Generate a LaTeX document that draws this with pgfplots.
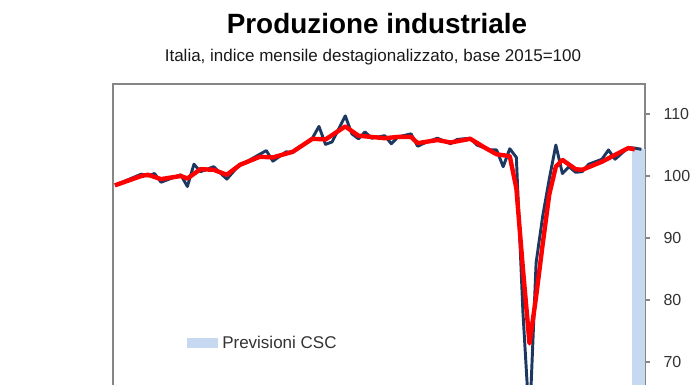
\documentclass[border=0pt]{standalone}
\usepackage{fontspec}
\setmainfont{Liberation Sans}
\usepackage{pgfplots}
\pgfplotsset{compat=1.18}
\definecolor{navy}{RGB}{28,56,96}
\definecolor{csred}{RGB}{255,0,0}
\definecolor{shade}{RGB}{198,217,241}
\definecolor{spine}{RGB}{134,134,134}
\definecolor{ticktext}{RGB}{50,50,50}
\begin{document}
\begin{tikzpicture}
\path[use as bounding box] (-84.75pt,63pt) rectangle (437.25pt,-225.75pt);
\begin{axis}[
  at={(0pt,0pt)}, anchor=north west,
  scale only axis, width=399pt, height=301.5pt,
  xmin=-0.3, xmax=80.55, ymin=50, ymax=114.84,
  xtick=\empty,
  ytick={70,80,90,100,110},
  ytick pos=right, yticklabel pos=right,
  tick align=outside, major tick length=3.75pt,
  axis line style={spine, line width=1.5pt},
  tick style={spine, line width=1pt},
  yticklabel style={font=\fontsize{12}{14}\selectfont, text=ticktext, anchor=west, inner sep=0pt, xshift=10pt},
  /pgf/number format/assume math mode=true,
  legend style={at={(0.1391,0.3557)}, anchor=west, draw=none, fill=none, inner sep=0pt,
    font=\fontsize{12.75}{15}\selectfont, text=ticktext, nodes={inner sep=0pt}, column sep=3pt},
  legend cell align=left,
  legend image code/.code={\fill[#1] (0pt,-3.75pt) rectangle (23.25pt,3.75pt);},
]
\addplot[fill=shade, draw=none] coordinates {(78.65,104.4) (80.55,104.4)} \closedcycle;
\addlegendentry{Previsioni CSC}
\addplot[navy, line width=2.2pt, line join=round, forget plot] coordinates {
(0,98.5) (2,99.4) (4,100.3) (5,100.0) (6,100.4) (7,99.0) (10,100.2) (11,98.3) (12,101.9) (13,100.7)
(15,101.5) (17,99.5) (19,101.9) (20,102.3) (23,104.1) (24,102.4) (26,103.9) (27,103.8) (30,106.1) (31,108.0)
(32,105.1) (33,105.5) (35,109.7) (36,106.8) (37,106.0) (38,107.1) (39,106.1) (41,106.5) (42,105.2) (43,106.3)
(45,106.8) (46,104.8) (47,105.3) (49,106.1) (51,105.2) (52,105.9) (54,106.1) (55,105.0) (57,104.2) (58,104.2)
(59,101.5) (60,104.4) (61,103.0) (62,78) (63,60) (64,86) (65,93.5) (66,99.5) (67,105.0) (68,100.4)
(69,101.5) (70,100.6) (71,100.7) (72,101.9) (74,102.7) (75,104.2) (76,102.7) (78,104.6) (79,104.5) (80,104.3)
};
\addplot[csred, line width=3.3pt, line join=round, forget plot] coordinates {
(0,98.5) (4,100.0) (5,100.2) (7,99.5) (10,100.0) (11,99.6) (13,101.1) (15,101.0) (17,100.2) (19,101.8)
(22,103.1) (24,103.0) (27,103.9) (30,106.0) (32,105.9) (35,108.0) (37,106.5) (41,106.1) (43,106.3) (45,106.3)
(46,105.3) (49,105.8) (51,105.4) (54,106.0) (56,104.7) (58,103.5) (60,103.2) (61,98) (62,85) (63,73)
(64,80.5) (65,89) (66,97) (67,101.5) (68,102.6) (70,101.1) (71,101.0) (74,102.3) (76,103.4) (78,104.5) (79,104.3)
};
\end{axis}
\node[anchor=base, font=\fontsize{20.9}{24}\selectfont\bfseries] at (198pt,38pt) {Produzione industriale};
\node[anchor=base, font=\fontsize{12.75}{15}\selectfont, text=black!90] at (195pt,16.5pt) {Italia, indice mensile destagionalizzato, base 2015=100};
\end{tikzpicture}
\end{document}
